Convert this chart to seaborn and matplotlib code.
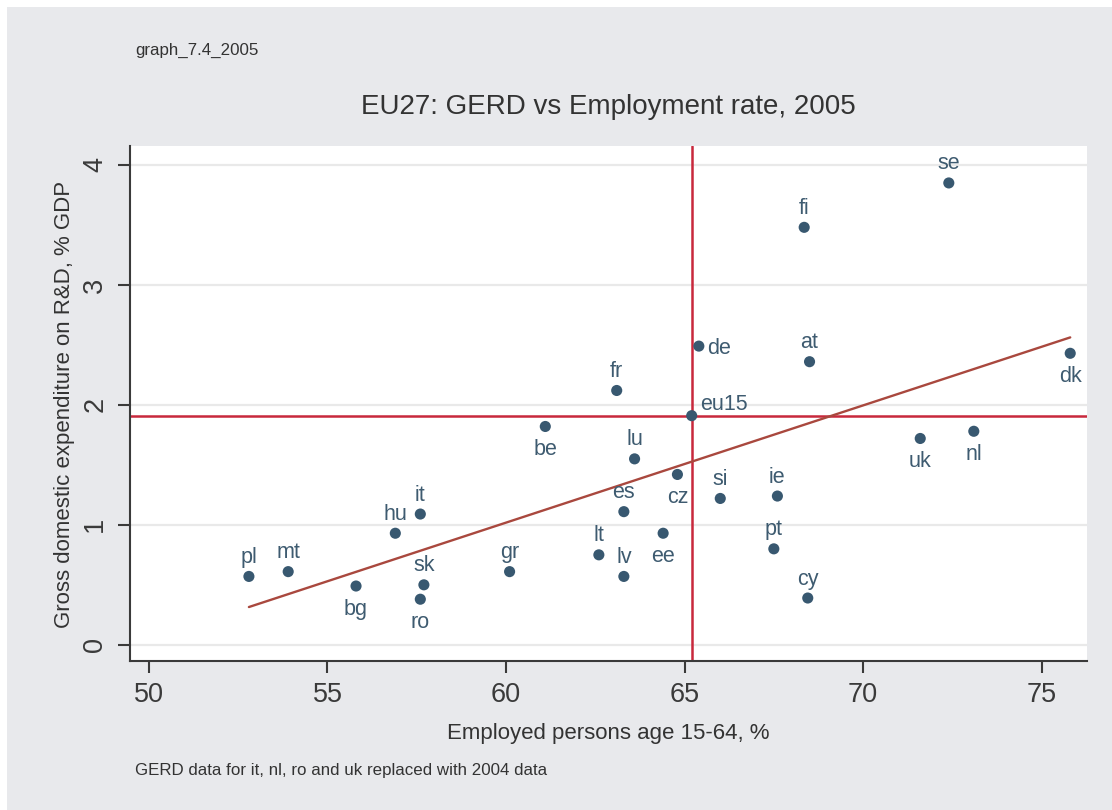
import matplotlib
matplotlib.use("Agg")
import matplotlib.pyplot as plt
import matplotlib.patches as mpatches
import pandas as pd
import seaborn as sns

# EU member states (plus EU15 average): employment rate and GERD, 2005
countries = ["pl", "mt", "bg", "hu", "it", "sk", "ro", "gr", "be", "fr",
             "lu", "lt", "lv", "es", "ee", "cz", "eu15", "de", "si", "pt",
             "ie", "cy", "fi", "at", "se", "uk", "nl", "dk"]
employment = [52.8, 53.9, 55.8, 56.9, 57.6, 57.7, 57.6, 60.1, 61.1, 63.1,
              63.6, 62.6, 63.3, 63.3, 64.4, 64.8, 65.2, 65.4, 66.0, 67.5,
              67.6, 68.45, 68.35, 68.5, 72.4, 71.6, 73.1, 75.8]
gerd = [0.57, 0.61, 0.49, 0.93, 1.09, 0.50, 0.38, 0.61, 1.82, 2.12,
        1.55, 0.75, 0.57, 1.11, 0.93, 1.42, 1.91, 2.49, 1.22, 0.80,
        1.24, 0.39, 3.48, 2.36, 3.85, 1.72, 1.78, 2.43]
x_ticks = [50, 55, 60, 65, 70, 75]
y_ticks = [0, 1, 2, 3, 4]

# where each marker label sits relative to its point
below = {"bg", "ro", "be", "ee", "cz", "uk", "nl", "dk"}
right = {"de", "eu15"}

sns.set_style("white")
plt.rcParams["font.family"] = ["Liberation Sans", "DejaVu Sans"]

df = pd.DataFrame({"country": countries, "employment": employment, "gerd": gerd})
eu15 = df[df["country"] == "eu15"].iloc[0]

W, H = 1112, 810
fig = plt.figure(figsize=(W / 100, H / 100), dpi=100, facecolor="white")
fig.patches.append(mpatches.Rectangle((7 / W, 0), 1, 1 - 7 / H, transform=fig.transFigure,
                                      facecolor="#e8e9ec", edgecolor="none", zorder=-10))

ax = fig.add_axes([130 / W, 1 - 661 / H, (1087 - 130) / W, (661 - 146) / H])
ax.set_facecolor("white")

point_col = "#385870"
label_col = "#3e5b70"
ref_col = "#c8283c"
fit_col = "#a9483e"

# EU15 reference lines
ax.axhline(eu15["gerd"], color=ref_col, lw=1.8, zorder=2)
ax.axvline(eu15["employment"], color=ref_col, lw=1.8, zorder=2)

# linear fit over all observations
sns.regplot(data=df, x="employment", y="gerd", scatter=False, ci=None,
            truncate=True, line_kws=dict(color=fit_col, lw=1.7, zorder=2.5), ax=ax)

sns.scatterplot(data=df, x="employment", y="gerd", color=point_col, s=64,
                edgecolor="none", linewidth=0, ax=ax, zorder=3, legend=False)

for c, xv, yv in zip(countries, employment, gerd):
    if c in right:
        dx, dy, ha = 8, (11 if c == "eu15" else -2), "left"
    elif c in below:
        dx, dy, ha = 0, -23, "center"
    else:
        dx, dy, ha = 0, 19, "center"
    ax.annotate(c, (xv, yv), xytext=(dx, dy), textcoords="offset pixels",
                ha=ha, va="center", fontsize=15.5, color=label_col, zorder=4)

ax.set_xlim(49.47, 76.27)
ax.set_ylim(-0.135, 4.158)
ax.set_xticks(x_ticks)
ax.set_yticks(y_ticks)
ax.set_xticklabels([str(t) for t in x_ticks])
ax.set_yticklabels([str(t) for t in y_ticks], rotation=90, va="center")
ax.set_xlabel("")
ax.set_ylabel("")

ax.yaxis.grid(True, color="#e9e9e9", lw=1.6)
ax.xaxis.grid(False)
ax.set_axisbelow(True)

for s in ("top", "right"):
    ax.spines[s].set_visible(False)
for s in ("left", "bottom"):
    ax.spines[s].set_color("#3a3a3a")
    ax.spines[s].set_linewidth(1.5)

ax.tick_params(axis="both", which="major", bottom=True, left=True, direction="out",
               length=8.6, width=1.5, color="#3a3a3a", labelsize=19.5, labelcolor="#3a3a3a")
ax.tick_params(axis="x", pad=6.5)
ax.tick_params(axis="y", pad=7)

txt = "#333333"
fig.text(135 / W, 1 - 50 / H, "graph_7.4_2005", fontsize=12.2, color=txt, ha="left", va="center")
fig.text(608 / W, 1 - 107 / H, "EU27: GERD vs Employment rate, 2005", fontsize=20,
         color=txt, ha="center", va="center")
fig.text(65 / W, 1 - 404 / H, "Gross domestic expenditure on R&D, % GDP", fontsize=16,
         color=txt, ha="center", va="center", rotation=90)
fig.text(608 / W, 1 - 733 / H, "Employed persons age 15-64, %", fontsize=16,
         color=txt, ha="center", va="center")
fig.text(135 / W, 1 - 771 / H, "GERD data for it, nl, ro and uk replaced with 2004 data",
         fontsize=12.2, color=txt, ha="left", va="center")

fig.savefig("out.png", dpi=100, facecolor=fig.get_facecolor())
